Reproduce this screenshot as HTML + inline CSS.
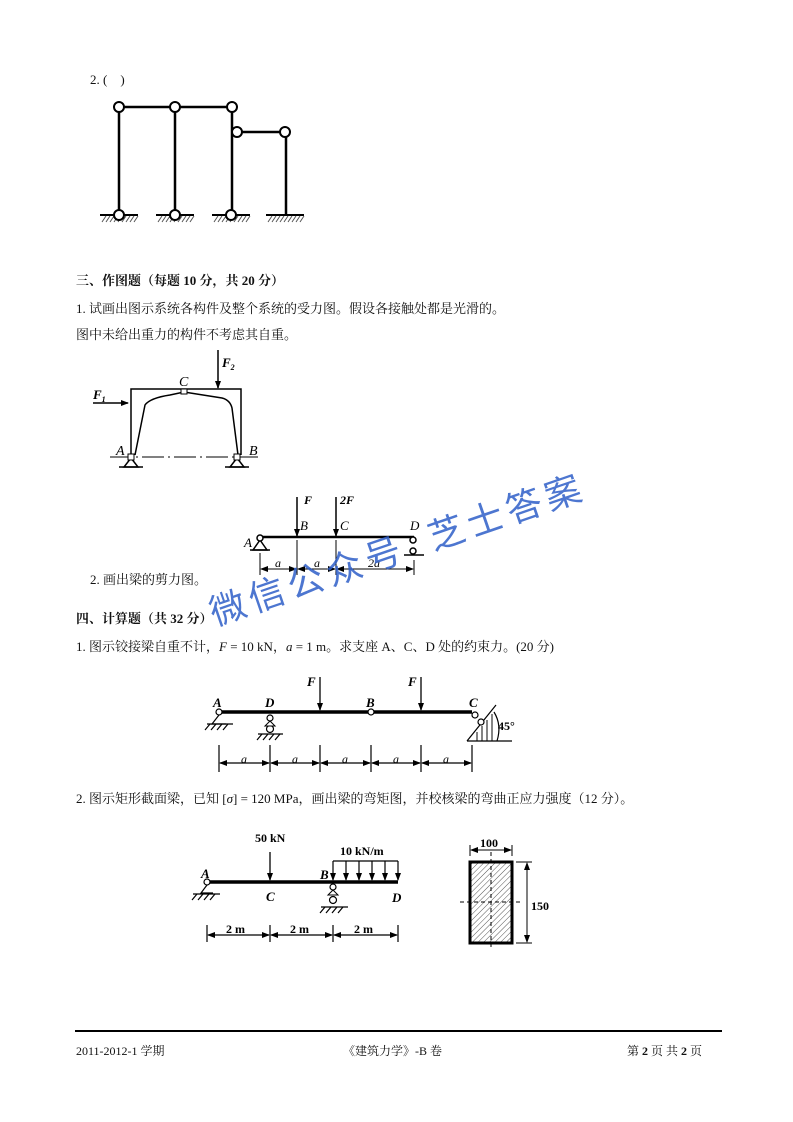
<!DOCTYPE html>
<html><head><meta charset="utf-8"><style>
body{margin:0;background:#fff}
.p{position:relative;width:793px;height:1122px;overflow:hidden;font-family:"Liberation Serif","Noto Serif CJK SC",serif;color:#111}
.t{position:absolute;font-size:13px;white-space:nowrap}
.b{font-weight:bold}
svg{position:absolute;left:0;top:0}
</style></head><body><div class="p">
<div class="t" style="left:90px;top:72px">2. (&nbsp;&nbsp;&nbsp;&nbsp;)</div>
<div class="t b" style="left:76px;top:270px">三、作图题（每题 10 分，共 20 分）</div>
<div class="t" style="left:76px;top:298px">1. 试画出图示系统各构件及整个系统的受力图。假设各接触处都是光滑的。</div>
<div class="t" style="left:76px;top:324px">图中未给出重力的构件不考虑其自重。</div>
<div class="t" style="left:90px;top:569px">2. 画出梁的剪力图。</div>
<div class="t b" style="left:76px;top:608px">四、计算题（共 32 分）</div>
<div class="t" style="left:76px;top:636px">1. 图示铰接梁自重不计，<i>F</i> = 10 kN，<i>a</i> = 1 m。求支座 A、C、D 处的约束力。(20 分)</div>
<div class="t" style="left:76px;top:788px">2. 图示矩形截面梁，已知 [<i>σ</i>] = 120 MPa，画出梁的弯矩图，并校核梁的弯曲正应力强度（12 分）。</div>
<div class="t" style="left:76px;top:1042px;font-size:12px">2011-2012-1 学期</div>
<div class="t" style="left:343px;top:1042px;font-size:12px">《建筑力学》-B 卷</div>
<div class="t" style="left:627px;top:1042px;font-size:12px">第 <b>2</b> 页 共 <b>2</b> 页</div>
<div style="position:absolute;left:75px;top:1030px;width:647px;height:2px;background:#000"></div>

<svg width="793" height="1122" viewBox="0 0 793 1122" font-family="'Liberation Serif',serif" font-style="italic" font-weight="bold" font-size="12">
<defs>
<marker id="ar" markerWidth="8" markerHeight="8" refX="7" refY="4" orient="auto" markerUnits="userSpaceOnUse"><path d="M0,1 L8,4 L0,7 Z" fill="#000"/></marker>
<marker id="as" markerWidth="8" markerHeight="8" refX="1" refY="4" orient="auto" markerUnits="userSpaceOnUse"><path d="M8,1 L0,4 L8,7 Z" fill="#000"/></marker>
<pattern id="h" width="4" height="4" patternUnits="userSpaceOnUse" patternTransform="rotate(45)"><line x1="0" y1="0" x2="0" y2="4" stroke="#555" stroke-width="1"/></pattern>
</defs>
<g stroke="#000" fill="none" stroke-width="2.5">
<line x1="119" y1="107" x2="232" y2="107"/>
<line x1="119" y1="107" x2="119" y2="215"/>
<line x1="175" y1="107" x2="175" y2="215"/>
<line x1="232" y1="107" x2="232" y2="215"/>
<line x1="237" y1="132" x2="285" y2="132"/>
<line x1="286" y1="132" x2="286" y2="215"/>
<g stroke-width="2">
<line x1="100" y1="215" x2="138" y2="215"/><line x1="156" y1="215" x2="194" y2="215"/><line x1="212" y1="215" x2="250" y2="215"/><line x1="266" y1="215" x2="304" y2="215"/>
</g>
</g>
<g stroke="#555" stroke-width="1">
<path d="M102,222l4,-6M106,222l4,-6M110,222l4,-6M114,222l4,-6M118,222l4,-6M122,222l4,-6M126,222l4,-6M130,222l4,-6M134,222l4,-6"/>
<path d="M158,222l4,-6M162,222l4,-6M166,222l4,-6M170,222l4,-6M174,222l4,-6M178,222l4,-6M182,222l4,-6M186,222l4,-6M190,222l4,-6"/>
<path d="M214,222l4,-6M218,222l4,-6M222,222l4,-6M226,222l4,-6M230,222l4,-6M234,222l4,-6M238,222l4,-6M242,222l4,-6M246,222l4,-6"/>
<path d="M268,222l4,-6M272,222l4,-6M276,222l4,-6M280,222l4,-6M284,222l4,-6M288,222l4,-6M292,222l4,-6M296,222l4,-6M300,222l4,-6"/>
</g>
<g stroke="#000" stroke-width="2" fill="#fff">
<circle cx="119" cy="107" r="5"/><circle cx="175" cy="107" r="5"/><circle cx="232" cy="107" r="5"/><circle cx="237" cy="132" r="5"/><circle cx="285" cy="132" r="5"/>
<circle cx="119" cy="215" r="5"/><circle cx="175" cy="215" r="5"/><circle cx="231" cy="215" r="5"/>
</g>

<g stroke="#000" stroke-width="1.5" fill="none">
<path d="M131,455 L131,389 L241,389 L241,455"/>
<path d="M135,455 L145,405 Q150,398 170,395 L184,392 L222,398 Q230,400 232,408 L238,455"/>
<line x1="110" y1="457" x2="258" y2="457" stroke-dasharray="22,4,2,4" stroke-width="1"/>
<line x1="93" y1="403" x2="128" y2="403" marker-end="url(#ar)"/>
<line x1="218" y1="350" x2="218" y2="388" marker-end="url(#ar)"/>
<path d="M131,458 L124,467 L138,467 Z M237,458 L230,467 L244,467 Z" fill="#fff"/>
<line x1="119" y1="467" x2="143" y2="467"/><line x1="225" y1="467" x2="249" y2="467"/>
</g>
<rect x="181" y="389" width="6" height="5" fill="#fff" stroke="#000"/>
<rect x="128" y="454" width="6" height="6" fill="#fff" stroke="#000"/>
<rect x="234" y="454" width="6" height="6" fill="#fff" stroke="#000"/>
<text x="93" y="399" font-size="13">F<tspan font-size="8" dy="3">1</tspan></text>
<text x="222" y="367" font-size="13">F<tspan font-size="8" dy="3">2</tspan></text>
<text x="179" y="386" font-weight="normal" font-size="14">C</text>
<text x="116" y="455" font-weight="normal" font-size="14">A</text>
<text x="249" y="455" font-weight="normal" font-size="14">B</text>

<g stroke="#000" stroke-width="1.5" fill="none">
<line x1="260" y1="537" x2="414" y2="537" stroke-width="2.5"/>
<line x1="297" y1="497" x2="297" y2="536" marker-end="url(#ar)"/>
<line x1="336" y1="497" x2="336" y2="536" marker-end="url(#ar)"/>
<path d="M260,540 L253,550 L267,550 Z"/><line x1="250" y1="550" x2="270" y2="550"/>
<line x1="404" y1="555" x2="424" y2="555"/>
<line x1="260" y1="553" x2="260" y2="575" stroke-width="1"/><line x1="297" y1="540" x2="297" y2="575" stroke-width="1"/><line x1="336" y1="540" x2="336" y2="575" stroke-width="1"/><line x1="414" y1="560" x2="414" y2="575" stroke-width="1"/>
<g stroke-width="1"><line x1="261" y1="569" x2="296" y2="569" marker-end="url(#ar)" marker-start="url(#as)"/><line x1="298" y1="569" x2="335" y2="569" marker-end="url(#ar)" marker-start="url(#as)"/><line x1="337" y1="569" x2="413" y2="569" marker-end="url(#ar)" marker-start="url(#as)"/></g>
</g>
<circle cx="260" cy="538" r="3" fill="#fff" stroke="#000" stroke-width="1.5"/>
<circle cx="413" cy="540" r="3" fill="#fff" stroke="#000" stroke-width="1.5"/>
<circle cx="413" cy="551" r="3" fill="#fff" stroke="#000" stroke-width="1.5"/>
<text x="304" y="504">F</text><text x="340" y="504">2F</text>
<text x="300" y="530" font-weight="normal" font-size="13">B</text><text x="340" y="530" font-weight="normal" font-size="13">C</text><text x="410" y="530" font-weight="normal" font-size="13">D</text><text x="244" y="547" font-weight="normal" font-size="13">A</text>
<text x="275" y="567" font-weight="normal">a</text><text x="314" y="567" font-weight="normal">a</text><text x="368" y="567" font-weight="normal">2a</text>

<g stroke="#000" fill="none">
<line x1="219" y1="712" x2="472" y2="712" stroke-width="3.5"/>
<line x1="320" y1="677" x2="320" y2="710" stroke-width="1.3" marker-end="url(#ar)"/>
<line x1="421" y1="677" x2="421" y2="710" stroke-width="1.3" marker-end="url(#ar)"/>
<g stroke-width="1.2">
<path d="M219,715 L212,724 L226,724"/><line x1="207" y1="724" x2="233" y2="724"/>
<path d="M210,724l-5,6M216,724l-5,6M222,724l-5,6M228,724l-5,6"/>
<line x1="258" y1="734" x2="283" y2="734"/><path d="M262,734l-5,6M268,734l-5,6M274,734l-5,6M280,734l-5,6"/>
<path d="M467,741 L496,705"/><path d="M477,732 v9 M482,726 v15 M487,720 v21 M492,714 v27" stroke="#333"/>
<line x1="467" y1="741" x2="512" y2="741"/>
<path d="M494,712 Q502,725 497,741"/>
<line x1="219" y1="745" x2="219" y2="772"/><line x1="270" y1="745" x2="270" y2="772"/><line x1="320" y1="745" x2="320" y2="772"/><line x1="371" y1="745" x2="371" y2="772"/><line x1="421" y1="745" x2="421" y2="772"/><line x1="472" y1="745" x2="472" y2="772"/>
<line x1="220" y1="763" x2="269" y2="763" marker-end="url(#ar)" marker-start="url(#as)"/>
<line x1="271" y1="763" x2="319" y2="763" marker-end="url(#ar)" marker-start="url(#as)"/>
<line x1="321" y1="763" x2="370" y2="763" marker-end="url(#ar)" marker-start="url(#as)"/>
<line x1="372" y1="763" x2="420" y2="763" marker-end="url(#ar)" marker-start="url(#as)"/>
<line x1="422" y1="763" x2="471" y2="763" marker-end="url(#ar)" marker-start="url(#as)"/>
</g>
</g>
<g fill="#fff" stroke="#000" stroke-width="1.2">
<circle cx="219" cy="712" r="3"/><circle cx="270" cy="718" r="3"/><circle cx="270" cy="729" r="3.5"/><circle cx="371" cy="712" r="3"/><circle cx="475" cy="715" r="3"/><circle cx="481" cy="722" r="3"/>
</g>
<path d="M270,721 L265,726 L275,726 Z" fill="#fff" stroke="#000"/>
<text x="307" y="686" font-size="13">F</text><text x="408" y="686" font-size="13">F</text>
<text x="213" y="707" font-size="13">A</text><text x="265" y="707" font-size="13">D</text><text x="366" y="707" font-size="13">B</text><text x="469" y="707" font-size="13">C</text>
<text x="498" y="730" font-style="normal">45°</text>
<g font-weight="normal"><text x="241" y="763">a</text><text x="292" y="763">a</text><text x="342" y="763">a</text><text x="393" y="763">a</text><text x="443" y="763">a</text></g>

<g stroke="#000" fill="none">
<line x1="207" y1="882" x2="398" y2="882" stroke-width="3.5"/>
<line x1="270" y1="852" x2="270" y2="880" stroke-width="1.3" marker-end="url(#ar)"/>
<line x1="333" y1="861" x2="398" y2="861" stroke-width="1.2"/>
<g stroke-width="1.2">
<line x1="333" y1="861" x2="333" y2="880" marker-end="url(#ar)"/><line x1="346" y1="861" x2="346" y2="880" marker-end="url(#ar)"/><line x1="359" y1="861" x2="359" y2="880" marker-end="url(#ar)"/><line x1="372" y1="861" x2="372" y2="880" marker-end="url(#ar)"/><line x1="385" y1="861" x2="385" y2="880" marker-end="url(#ar)"/><line x1="398" y1="861" x2="398" y2="880" marker-end="url(#ar)"/>
<path d="M207,885 L201,893 L213,893"/><line x1="193" y1="894" x2="220" y2="894"/><path d="M197,894l-5,6M203,894l-5,6M209,894l-5,6M215,894l-5,6"/>
<line x1="321" y1="907" x2="348" y2="907"/><path d="M325,907l-5,6M331,907l-5,6M337,907l-5,6M343,907l-5,6"/>
<line x1="207" y1="925" x2="207" y2="942"/><line x1="270" y1="925" x2="270" y2="942"/><line x1="333" y1="925" x2="333" y2="942"/><line x1="398" y1="925" x2="398" y2="942"/>
<line x1="208" y1="935" x2="269" y2="935" marker-end="url(#ar)" marker-start="url(#as)"/>
<line x1="271" y1="935" x2="332" y2="935" marker-end="url(#ar)" marker-start="url(#as)"/>
<line x1="334" y1="935" x2="397" y2="935" marker-end="url(#ar)" marker-start="url(#as)"/>
</g>
</g>
<g fill="#fff" stroke="#000" stroke-width="1.2"><circle cx="207" cy="882" r="3"/><circle cx="333" cy="887" r="3"/><circle cx="333" cy="900" r="3.5"/></g>
<path d="M333,890 L328,895 L338,895 Z" fill="#fff" stroke="#000"/>
<g font-style="normal"><text x="255" y="842">50 kN</text><text x="340" y="855">10 kN/m</text><text x="226" y="933">2 m</text><text x="290" y="933">2 m</text><text x="354" y="933">2 m</text></g>
<text x="201" y="878" font-size="13">A</text><text x="266" y="901" font-size="13">C</text><text x="320" y="879" font-size="13">B</text><text x="392" y="902" font-size="13">D</text>

<rect x="470" y="862" width="42" height="81" fill="url(#h)" stroke="#000" stroke-width="3"/>
<g stroke="#000" stroke-width="1" fill="none">
<line x1="491" y1="852" x2="491" y2="950" stroke-dasharray="4,3"/>
<line x1="460" y1="902" x2="522" y2="902" stroke-dasharray="4,3"/>
<line x1="471" y1="850" x2="511" y2="850" marker-end="url(#ar)" marker-start="url(#as)"/>
<line x1="470" y1="845" x2="470" y2="856"/><line x1="512" y1="845" x2="512" y2="856"/>
<line x1="527" y1="863" x2="527" y2="942" marker-end="url(#ar)" marker-start="url(#as)"/>
<line x1="516" y1="862" x2="532" y2="862"/><line x1="516" y1="943" x2="532" y2="943"/>
</g>
<text x="480" y="847" font-style="normal">100</text>
<text x="531" y="910" font-style="normal">150</text>

<text x="215" y="626" transform="rotate(-19 215 626)" fill="#2f5fc8" font-family="'Noto Sans CJK SC',sans-serif" font-style="normal" font-weight="normal" font-size="36" letter-spacing="5" opacity="0.85">微信公众号&#160;&#160;芝士答案</text>
</svg>
</div></body></html>
